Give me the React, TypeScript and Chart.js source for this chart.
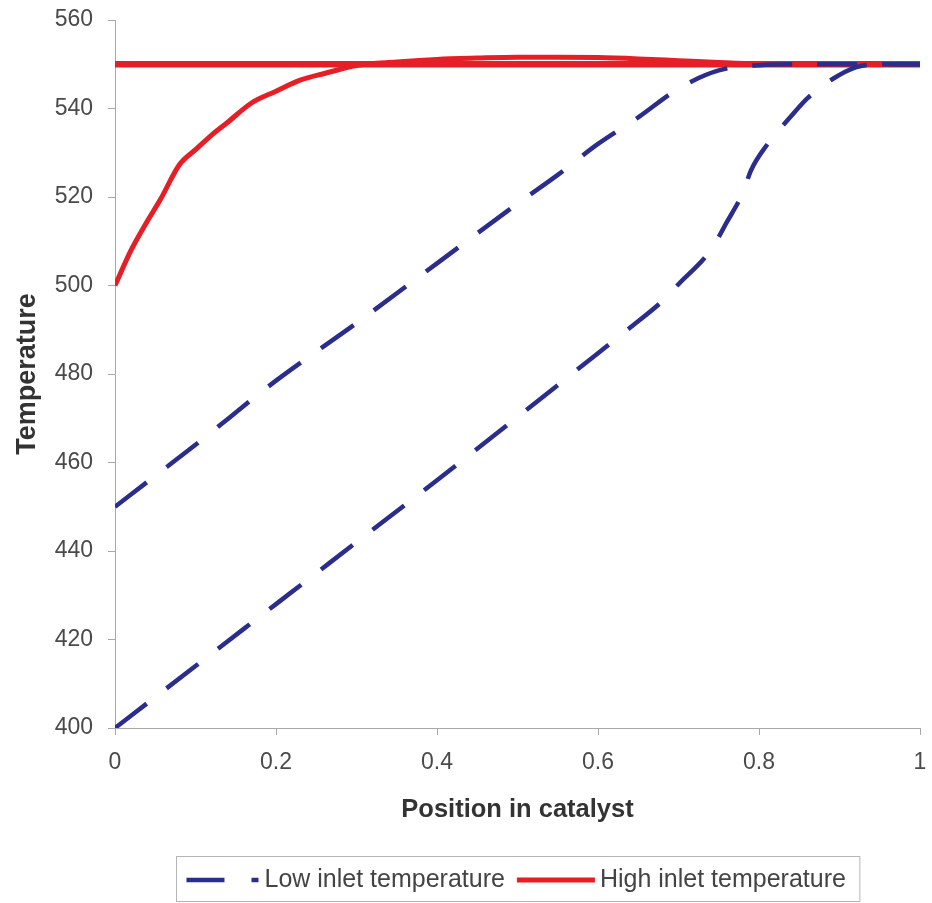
import { useEffect, useRef } from "react";
import { Chart, registerables } from "chart.js";

Chart.register(...registerables);

// ---- data ----
const xTicks = [0, 0.2, 0.4, 0.6, 0.8, 1];
const yTicks = [400, 420, 440, 460, 480, 500, 520, 540, 560];

const legendLabels = ["Low inlet temperature", "High inlet temperature"];

// Low inlet temperature – curve starting at 450
const lowUpperX = [0, 0.05, 0.1, 0.2, 0.3, 0.4, 0.5, 0.55, 0.6, 0.65, 0.7, 0.75, 0.8, 0.85, 1];
const lowUpperY = [450, 457, 464, 478.5, 491.5, 505, 518.5, 525, 532, 538, 544.5, 548.6, 549.8, 550, 550];

// Low inlet temperature – curve starting at 400
const lowLowerX = [0, 0.1, 0.2, 0.3, 0.4, 0.5, 0.6, 0.64, 0.68, 0.7, 0.74, 0.76, 0.78, 0.79, 0.81, 0.84, 0.86, 0.89, 0.92, 0.95, 1];
const lowLowerY = [400, 414, 428, 442, 456, 470.3, 484.7, 490.5, 496.5, 500.3, 508, 514.3, 521, 526, 531.8, 538.3, 542.3, 546.5, 549.3, 550, 550];

// High inlet temperature – curve starting at 500
const highX = [0, 0.02, 0.04, 0.056, 0.08, 0.1, 0.12, 0.14, 0.17, 0.2, 0.23, 0.26, 0.3, 0.35, 0.4, 0.45, 0.5, 0.55, 0.6, 0.65, 0.7, 0.75, 0.8, 0.9, 1];
const highY = [500, 508, 514.5, 519.3, 527.3, 530.7, 534, 536.9, 541.3, 543.9, 546.4, 547.9, 549.7, 550.5, 551.1, 551.4, 551.6, 551.6, 551.5, 551.2, 550.8, 550.4, 550.1, 550, 550];

// High inlet temperature – flat line at 550
const flatX = [0, 1];
const flatY = [550, 550];

const BLUE = "#2b2d8c";
const RED = "#e61e25";
const FONT = '"Liberation Sans", Arial, Helvetica, sans-serif';

const zip = (xs: number[], ys: number[]) => xs.map((x, i) => ({ x, y: ys[i] }));

const legendPlugin = {
  id: "boxedLegend",
  afterDraw(chart: any) {
    const ctx: CanvasRenderingContext2D = chart.ctx;
    const items = [
      { label: legendLabels[0], color: BLUE, dash: [38, 27], sample: 72, lw: 4.5, gap: 6 },
      { label: legendLabels[1], color: RED, dash: [] as number[], sample: 78, lw: 5, gap: 5 },
    ];
    ctx.save();
    ctx.font = `25px ${FONT}`;
    const widths = items.map((it) => ctx.measureText(it.label).width);
    const padL = 10;
    const padR = 14;
    const itemGap = 12;
    let total = padL + padR + itemGap * (items.length - 1);
    items.forEach((it, i) => (total += it.sample + it.gap + widths[i]));
    const cx = (chart.chartArea.left + chart.chartArea.right) / 2;
    const left = Math.round(cx - total / 2) + 0.5;
    const top = chart.height - 46.5;
    const bottom = chart.height - 1.5;
    ctx.strokeStyle = "#b5b5b5";
    ctx.lineWidth = 1;
    ctx.setLineDash([]);
    ctx.strokeRect(left, top, total, bottom - top);
    const cy = top + 23.5;
    let x = left + padL;
    items.forEach((it, i) => {
      ctx.beginPath();
      ctx.strokeStyle = it.color;
      ctx.lineWidth = it.lw;
      ctx.lineCap = "butt";
      ctx.setLineDash(it.dash);
      ctx.moveTo(x, cy);
      ctx.lineTo(x + it.sample, cy);
      ctx.stroke();
      ctx.setLineDash([]);
      x += it.sample + it.gap;
      ctx.fillStyle = "#444444";
      ctx.textAlign = "left";
      ctx.textBaseline = "middle";
      ctx.fillText(it.label, x, cy + 0.5);
      x += widths[i] + itemGap;
    });
    ctx.restore();
  },
};

export default function App() {
  const ref = useRef<HTMLCanvasElement | null>(null);

  useEffect(() => {
    if (!ref.current) return;
    const chart = new Chart(ref.current, {
      type: "line",
      data: {
        datasets: [
          {
            label: legendLabels[0],
            data: zip(lowUpperX, lowUpperY),
            borderColor: BLUE,
            borderWidth: 4.5,
            borderDash: [40, 25],
            borderCapStyle: "butt",
            pointRadius: 0,
            cubicInterpolationMode: "monotone",
            fill: false,
          },
          {
            label: legendLabels[0],
            data: zip(lowLowerX, lowLowerY),
            borderColor: BLUE,
            borderWidth: 4.5,
            borderDash: [40, 25],
            borderCapStyle: "butt",
            pointRadius: 0,
            cubicInterpolationMode: "monotone",
            fill: false,
          },
          {
            label: legendLabels[1],
            data: zip(highX, highY),
            borderColor: RED,
            borderWidth: 5,
            pointRadius: 0,
            cubicInterpolationMode: "monotone",
            fill: false,
          },
          {
            label: legendLabels[1],
            data: zip(flatX, flatY),
            borderColor: RED,
            borderWidth: 6.5,
            pointRadius: 0,
            fill: false,
          },
        ],
      },
      options: {
        animation: false,
        responsive: false,
        devicePixelRatio: 1,
        layout: { padding: { top: 20, right: 12, bottom: 77.6, left: 0 } },
        plugins: {
          legend: { display: false },
          tooltip: { enabled: false },
        },
        scales: {
          x: {
            type: "linear",
            min: 0,
            max: 1,
            afterBuildTicks: (scale: any) => {
              scale.ticks = xTicks.map((v) => ({ value: v }));
            },
            afterFit: (scale: any) => {
              scale.height = 97.4;
              scale.paddingLeft = 0;
              scale.paddingRight = 0;
            },
            ticks: {
              padding: 14,
              color: "#4a4a4a",
              font: { family: FONT, size: 23 },
              maxRotation: 0,
              autoSkip: false,
              callback: (v: any) => String(v),
            },
            grid: {
              display: true,
              drawOnChartArea: false,
              drawTicks: true,
              tickLength: 7,
              color: "#a8a8a8",
            },
            border: { display: true, color: "#a8a8a8", width: 1 },
            title: {
              display: true,
              text: "Position in catalyst",
              color: "#333333",
              font: { family: FONT, size: 25.5, weight: "bold" },
              padding: { top: 0, bottom: 0 },
            },
          },
          y: {
            type: "linear",
            min: 400,
            max: 560,
            afterBuildTicks: (scale: any) => {
              scale.ticks = yTicks.map((v) => ({ value: v }));
            },
            afterFit: (scale: any) => {
              scale.width = 115;
              scale.paddingTop = 0;
              scale.paddingBottom = 0;
            },
            ticks: {
              padding: 15,
              color: "#4a4a4a",
              font: { family: FONT, size: 23 },
              autoSkip: false,
              callback: (v: any) => String(v),
            },
            grid: {
              display: true,
              drawOnChartArea: false,
              drawTicks: true,
              tickLength: 7,
              color: "#a8a8a8",
            },
            border: { display: true, color: "#a8a8a8", width: 1 },
            title: {
              display: true,
              text: "Temperature",
              color: "#333333",
              font: { family: FONT, size: 27, weight: "bold" },
              padding: { top: 11, bottom: 0 },
            },
          },
        },
      },
      plugins: [legendPlugin],
    } as any);
    return () => chart.destroy();
  }, []);

  return (
    <div style={{ position: "absolute", left: 0, top: 0, width: 932, height: 903, background: "#ffffff" }}>
      <canvas ref={ref} width={932} height={903} style={{ width: 932, height: 903, display: "block" }} />
    </div>
  );
}
